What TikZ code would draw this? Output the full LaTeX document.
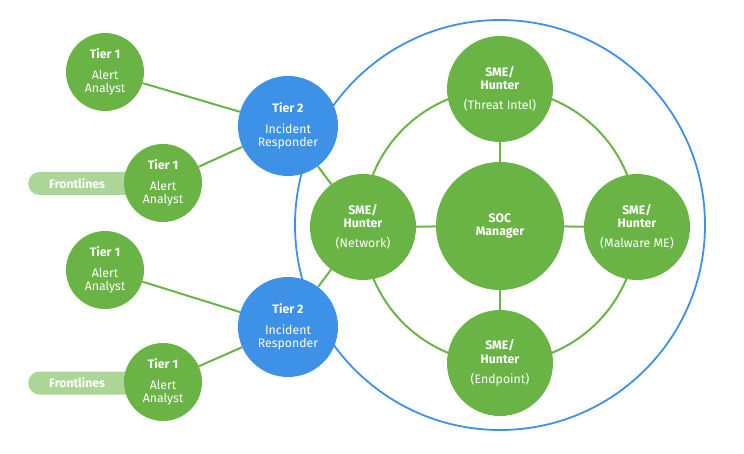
\documentclass[tikz,border=0pt]{standalone}
\usepackage{fontspec}
\setmainfont{Fira Sans}
\usetikzlibrary{backgrounds}
\definecolor{grn}{RGB}{106,180,70}
\definecolor{pillc}{RGB}{172,214,152}
\definecolor{blu}{RGB}{61,145,230}
\tikzset{
  bub/.style={circle, inner sep=0pt, text=white, align=center,
    font=\fontsize{12.3}{13.3}\selectfont},
  tone/.style={bub, fill=grn, minimum size=78pt},
  ttwo/.style={bub, fill=blu, minimum size=100pt},
  sme/.style={bub, fill=grn, minimum size=106pt},
  socm/.style={bub, fill=grn, minimum size=128pt},
  pill/.style={fill=pillc, rounded corners=11.5pt, minimum width=120pt,
    minimum height=23pt, inner sep=0pt, anchor=west},
  pilltext/.style={text=white, inner sep=0pt, anchor=west,
    font=\fontsize{12.3}{13.3}\selectfont\bfseries},
  gline/.style={draw=grn, line width=2pt},
}
\begin{document}
\begin{tikzpicture}[x=1pt,y=-1pt]
\useasboundingbox (0,0) rectangle (744,454);
% pills
\node[pill] (fl1) at (28,183.5) {};
\node[pilltext] (fl1t) at ([xshift=21pt]fl1.west) {Frontlines};
\node[pill] (fl2) at (28,383) {};
\node[pilltext] (fl2t) at ([xshift=21pt]fl2.west) {Frontlines};
% nodes
\node[tone] (a1) at (105,72) {\textbf{Tier 1}\\[7pt]Alert\\Analyst};
\node[tone] (a2) at (163,183) {\textbf{Tier 1}\\[7pt]Alert\\Analyst};
\node[tone] (a3) at (105,270) {\textbf{Tier 1}\\[7pt]Alert\\Analyst};
\node[tone] (a4) at (163,382) {\textbf{Tier 1}\\[7pt]Alert\\Analyst};
\node[ttwo] (r1) at (288,126) {\textbf{Tier 2}\\[7pt]Incident\\Responder};
\node[ttwo] (r2) at (288,327) {\textbf{Tier 2}\\[7pt]Incident\\Responder};
\node[socm] (soc) at (500,226) {\textbf{SOC}\\\textbf{Manager}};
\node[sme] (ti) at (500,89) {\textbf{SME/}\\\textbf{Hunter}\\[7pt](Threat Intel)};
\node[sme] (nw) at (363,227) {\textbf{SME/}\\\textbf{Hunter}\\[7pt](Network)};
\node[sme] (mw) at (637,227) {\textbf{SME/}\\\textbf{Hunter}\\[7pt](Malware ME)};
\node[sme] (ep) at (500,363) {\textbf{SME/}\\\textbf{Hunter}\\[7pt](Endpoint)};
\begin{scope}[on background layer]
  \node[circle, draw=blu, line width=1.8pt, minimum size=410pt, inner sep=0pt] (outer) at (500,225) {};
  \node[circle, draw=grn, line width=2pt, minimum size=274pt, inner sep=0pt] (ring) at (500,226) {};
  \draw[gline] (soc) -- (ti);
  \draw[gline] (soc) -- (nw);
  \draw[gline] (soc) -- (mw);
  \draw[gline] (soc) -- (ep);
  \draw[gline] (a1) -- (r1);
  \draw[gline] (a2) -- (r1);
  \draw[gline] (a3) -- (r2);
  \draw[gline] (a4) -- (r2);
  \draw[gline] (r1) -- (nw);
  \draw[gline] (r2) -- (nw);
\end{scope}
\end{tikzpicture}
\end{document}
